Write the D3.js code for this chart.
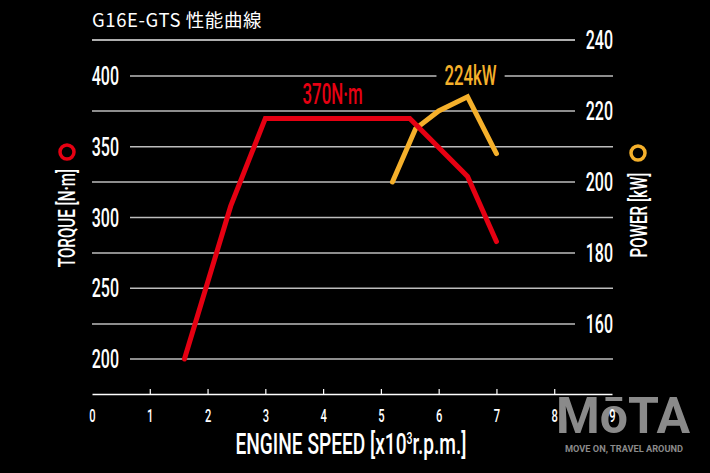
<!DOCTYPE html>
<html>
<head>
<meta charset="utf-8">
<script src="https://cdn.jsdelivr.net/npm/d3@7"></script>
<style>
body { margin: 0; background: #000; }
svg { display: block; background: #000; }
</style>
</head>
<body>
<div id="chart"></div>
<script>
var WIDTH = 710, HEIGHT = 473;
var RED = "#e60012", GOLD = "#f5b02b", GRID = "#bdbdbd";
var NUM_FONT = "Roboto, 'DejaVu Sans', sans-serif";

// data
var rpmTicks = [0, 1000, 2000, 3000, 4000, 5000, 6000, 7000, 8000, 9000];
var torqueTicks = [200, 250, 300, 350, 400];
var powerTicks = [160, 180, 200, 220, 240];

var torqueRpm = [1600, 2400, 3000, 5500, 6500, 7000];
var torqueNm = [200, 308, 370, 370, 329, 283];

var powerRpm = [5200, 5600, 6000, 6500, 7000];
var powerKw = [200, 215, 220, 224, 208];

var x = d3.scaleLinear().domain([0, 9000]).range([92, 612]);
var yTorque = d3.scaleLinear().domain([200, 400]).range([359, 76]);
var yPower = d3.scaleLinear().domain([160, 240]).range([324, 40]);

var svg = d3.select("#chart")
    .append("svg")
    .attr("width", WIDTH)
    .attr("height", HEIGHT);

// narrow text, the original uses a condensed DIN-like face
function narrowText(parent, str, px, py, size, anchor, fill, squeeze, rotate) {
    var t = "translate(" + px + "," + py + ")";
    if (rotate) t += " rotate(" + rotate + ")";
    t += " scale(" + squeeze + ",1)";
    return parent.append("text")
        .attr("transform", t)
        .attr("text-anchor", anchor)
        .attr("font-family", NUM_FONT)
        .attr("font-weight", 500)
        .attr("font-size", size)
        .attr("fill", fill)
        .text(str);
}

// watermark (sits under the 8 and 9 labels, like the original)
var wm = svg.append("g").attr("fill", "#8a8a8a");
wm.append("text")
    .attr("x", 556).attr("y", 433)
    .attr("font-family", "Roboto, sans-serif")
    .attr("font-weight", "bold")
    .attr("font-size", 50)
    .attr("textLength", 134)
    .attr("lengthAdjust", "spacingAndGlyphs")
    .text("MōTA");
wm.append("text")
    .attr("x", 565).attr("y", 452)
    .attr("font-family", "Roboto, sans-serif")
    .attr("font-weight", "bold")
    .attr("font-size", 8.5)
    .attr("textLength", 118)
    .attr("lengthAdjust", "spacingAndGlyphs")
    .text("MOVE ON, TRAVEL AROUND");

// title
svg.append("text")
    .attr("x", 92).attr("y", 27)
    .attr("font-family", "'Noto Sans CJK JP', 'Noto Sans', sans-serif")
    .attr("font-size", 18.5)
    .attr("letter-spacing", 0.6)
    .attr("fill", "#fff")
    .text("G16E-GTS 性能曲線");

// grid lines: torque ones start after the left label, power ones stop before the right label
var x0 = x.range()[0], x1 = x.range()[1];

svg.append("g").selectAll("line")
    .data(torqueTicks)
    .enter().append("line")
    .attr("x1", x0 + 38).attr("x2", x1 + 1)
    .attr("y1", function (d) { return yTorque(d); })
    .attr("y2", function (d) { return yTorque(d); })
    .attr("stroke", GRID)
    .attr("stroke-width", 1.5);

svg.append("g").selectAll("line")
    .data(powerTicks)
    .enter().append("line")
    .attr("x1", x0).attr("x2", x1 - 37)
    .attr("y1", function (d) { return yPower(d); })
    .attr("y2", function (d) { return yPower(d); })
    .attr("stroke", function (d) { return d === 240 ? "#e8e8e8" : GRID; })
    .attr("stroke-width", 1.5);

torqueTicks.forEach(function (d) {
    narrowText(svg, d, x0 + 27, yTorque(d) + 9, 25, "end", "#fff", 0.64);
});
powerTicks.forEach(function (d) {
    narrowText(svg, d, x1 + 1, yPower(d) + 9, 25, "end", "#fff", 0.64);
});

// x axis
var xAxis = svg.append("g")
    .attr("transform", "translate(0," + (yTorque(200) + 35) + ")")
    .call(d3.axisBottom(x)
        .tickValues(rpmTicks)
        .tickSize(-5)
        .tickSizeOuter(0)
        .tickPadding(15)
        .tickFormat(function (d) { return d / 1000; }));

xAxis.select(".domain").attr("stroke", "#fff").attr("stroke-width", 1.5);
xAxis.selectAll(".tick line")
    .attr("stroke", "#fff")
    .attr("stroke-width", 1.2)
    .filter(function (d) { return d === 0 || d === 9000; })
    .remove();
xAxis.selectAll(".tick text")
    .attr("fill", "#fff")
    .attr("font-family", NUM_FONT)
    .attr("font-weight", 500)
    .attr("font-size", 18)
    .attr("transform", "scale(0.62,1)");

var xTitle = narrowText(svg, "", 351, 454, 29, "middle", "#fff", 0.66);
xTitle.append("tspan").text("ENGINE SPEED [x10");
xTitle.append("tspan").attr("font-size", 16).attr("dy", -10).text("3");
xTitle.append("tspan").attr("dy", 10).text("r.p.m.]");

// axis titles with ring markers
narrowText(svg, "TORQUE [N·m]", 75, 218, 23, "middle", "#fff", 0.66, -90);
svg.append("circle")
    .attr("cx", 67).attr("cy", 152).attr("r", 7)
    .attr("fill", "none").attr("stroke", RED).attr("stroke-width", 3.5);

narrowText(svg, "POWER [kW]", 647, 215, 23, "middle", "#fff", 0.66, -90);
svg.append("circle")
    .attr("cx", 638).attr("cy", 153).attr("r", 7)
    .attr("fill", "none").attr("stroke", GOLD).attr("stroke-width", 3.5);

// curves
var torqueLine = d3.line()
    .x(function (d, i) { return x(torqueRpm[i]); })
    .y(function (d) { return yTorque(d); });

var powerLine = d3.line()
    .x(function (d, i) { return x(powerRpm[i]); })
    .y(function (d) { return yPower(d); });

svg.append("path")
    .attr("d", powerLine(powerKw))
    .attr("fill", "none")
    .attr("stroke", GOLD)
    .attr("stroke-width", 5)
    .attr("stroke-linecap", "round");

svg.append("path")
    .attr("d", torqueLine(torqueNm))
    .attr("fill", "none")
    .attr("stroke", RED)
    .attr("stroke-width", 5)
    .attr("stroke-linecap", "round");

// peak labels
var maxT = d3.max(torqueNm);
var flat = torqueRpm.filter(function (r, i) { return torqueNm[i] === maxT; });
narrowText(svg, maxT + "N·m", x((flat[0] + flat[flat.length - 1]) / 2) - 5, yTorque(maxT) - 14, 29, "middle", RED, 0.58);

var maxP = d3.max(powerKw);
var peakRpm = powerRpm[powerKw.indexOf(maxP)];
var pLabel = svg.append("g");
narrowText(pLabel, maxP + "kW", x(peakRpm) + 3, yPower(maxP) - 12, 28, "middle", GOLD, 0.6);
var bb = pLabel.node().getBBox();
pLabel.insert("rect", "text")
    .attr("x", bb.x - 8).attr("y", bb.y)
    .attr("width", bb.width + 16).attr("height", bb.height)
    .attr("fill", "#000");
</script>
</body>
</html>
